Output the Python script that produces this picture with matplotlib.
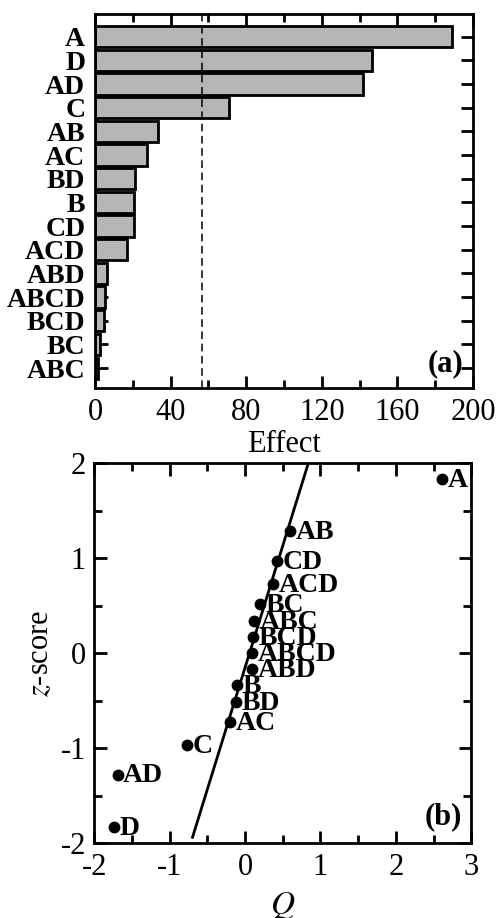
import matplotlib
matplotlib.use('Agg')
import matplotlib.pyplot as plt
from matplotlib.ticker import MultipleLocator
import numpy as np

plt.rcParams['font.family'] = ['Liberation Serif', 'DejaVu Serif']
plt.rcParams['mathtext.fontset'] = 'stix'
plt.rcParams['axes.unicode_minus'] = False

# (a) Pareto chart of effects, largest first
effect_names = ['A', 'D', 'AD', 'C', 'AB', 'AC', 'BD', 'B', 'CD', 'ACD',
                'ABD', 'ABCD', 'BCD', 'BC', 'ABC']
effect_values = [189, 146.7, 142, 70.7, 33.2, 27.3, 21.2, 20.6, 20.6, 17.1,
                 6.5, 5.5, 5.0, 2.6, 1.8]
critical_effect = 56.4

# (b) normal probability plot
q_names = ['A', 'AB', 'CD', 'ACD', 'BC', 'ABC', 'BCD', 'ABCD', 'ABD',
           'B', 'BD', 'AC', 'C', 'AD', 'D']
q_values = [2.61, 0.60, 0.42, 0.37, 0.20, 0.12, 0.10, 0.09, 0.09,
            -0.11, -0.12, -0.20, -0.77, -1.69, -1.735]
z_scores = [1.83, 1.28, 0.97, 0.73, 0.52, 0.34, 0.17, 0.0, -0.17,
            -0.34, -0.52, -0.73, -0.97, -1.28, -1.83]
fit_center = 0.06
fit_scale = 0.39
fit_z_range = [-1.94, 2.0]

fig = plt.figure(figsize=(4.96, 9.18), dpi=100)
ax1 = fig.add_axes([0.1915, 0.5773, 0.762, 0.4074])
ax2 = fig.add_axes([0.19, 0.0817, 0.760, 0.4139])

tick_fs = 22
lab_fs = 20

ypos = np.arange(len(effect_names))
ax1.barh(ypos, effect_values, height=0.9, color='#b6b6b6',
         edgecolor='black', linewidth=2, zorder=2)
ax1.axvline(critical_effect, color='black', linestyle=(0, (5, 3)),
            linewidth=1.1, zorder=3)
ax1.set_ylim(len(effect_names) - 0.16, -0.96)
ax1.set_xlim(0, 200)
ax1.set_yticks(ypos)
ax1.set_yticklabels(effect_names, fontweight='bold', fontsize=lab_fs)
ax1.xaxis.set_major_locator(MultipleLocator(40))
ax1.xaxis.set_minor_locator(MultipleLocator(20))
ax1.tick_params(axis='x', labelsize=tick_fs, pad=7)
ax1.tick_params(axis='y', pad=7)
ax1.set_xlabel('Effect', fontsize=tick_fs, labelpad=2)
ax1.text(0.975, 0.025, '(a)', transform=ax1.transAxes, ha='right',
         va='bottom', fontsize=22, fontweight='bold')

for name, q, z in zip(q_names, q_values, z_scores):
    ax2.plot(q, z, 'o', color='black', markersize=7.5, zorder=3)
    ax2.annotate(name, (q, z), xytext=(4, -1), textcoords='offset points',
                 ha='left', va='center', fontsize=lab_fs, fontweight='bold')

fit_z = np.array(fit_z_range)
ax2.plot(fit_center + fit_scale * fit_z, fit_z, color='black', linewidth=2,
         zorder=2)
ax2.set_xlim(-2, 3)
ax2.set_ylim(-2, 2)
ax2.xaxis.set_major_locator(MultipleLocator(1))
ax2.xaxis.set_minor_locator(MultipleLocator(0.5))
ax2.yaxis.set_major_locator(MultipleLocator(1))
ax2.yaxis.set_minor_locator(MultipleLocator(0.5))
ax2.tick_params(labelsize=tick_fs)
ax2.tick_params(axis='x', pad=7)
ax2.tick_params(axis='y', pad=6)
ax2.set_xlabel('$Q$', fontsize=24, labelpad=6)
ax2.set_ylabel('$z$-score', fontsize=tick_fs, labelpad=4)
ax2.text(0.975, 0.03, '(b)', transform=ax2.transAxes, ha='right',
         va='bottom', fontsize=22, fontweight='bold')

for ax in (ax1, ax2):
    for sp in ax.spines.values():
        sp.set_linewidth(2)
    ax.tick_params(which='both', direction='in', top=True, right=True,
                   width=2)
    ax.tick_params(which='major', length=9)
    ax.tick_params(which='minor', length=6)

fig.savefig('out.png', dpi=100)
